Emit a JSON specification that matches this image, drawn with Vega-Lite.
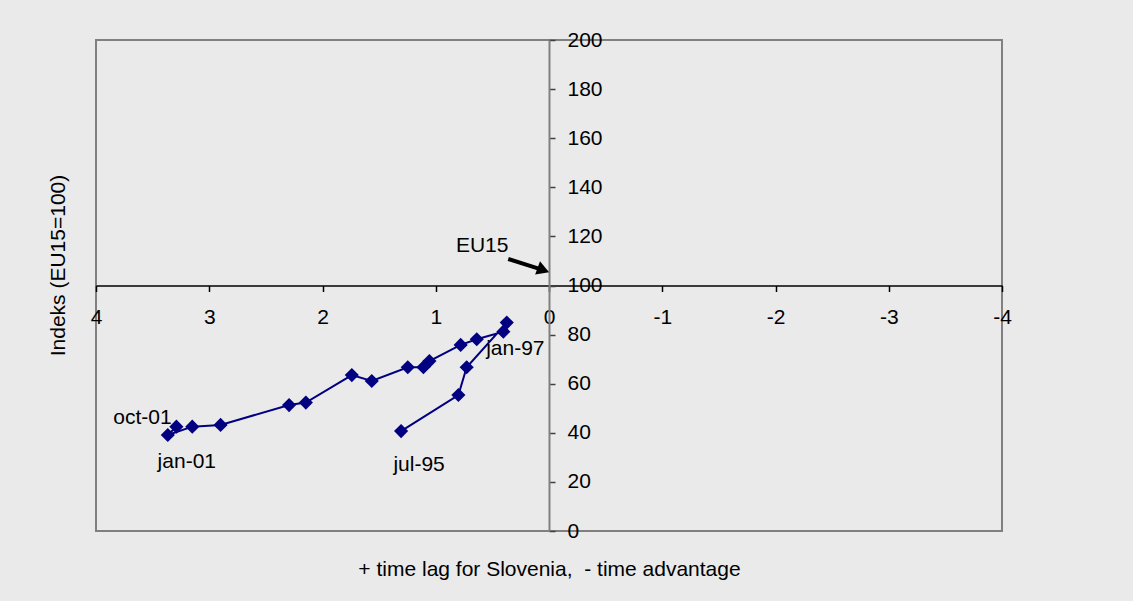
{
  "$schema": "https://vega.github.io/schema/vega-lite/v6.json",
  "width": 906,
  "height": 491,
  "autosize": {"type": "none"},
  "padding": {"left": 96, "top": 40, "right": 131, "bottom": 70},
  "background": "#eaeaea",
  "config": {
    "view": {"stroke": "#808080", "strokeWidth": 2, "fill": "#eaeaea"},
    "font": "Liberation Sans",
    "text": {"font": "Liberation Sans", "fontSize": 21, "color": "black"}
  },
  "datasets": {
    "series": [
      {"seq": 1, "lag": 1.306, "index": 40.7, "label": "jul-95"},
      {"seq": 2, "lag": 0.80, "index": 55.4, "label": ""},
      {"seq": 3, "lag": 0.727, "index": 66.7, "label": ""},
      {"seq": 4, "lag": 0.373, "index": 84.9, "label": ""},
      {"seq": 5, "lag": 0.403, "index": 81.2, "label": "jan-97"},
      {"seq": 6, "lag": 0.638, "index": 78.1, "label": ""},
      {"seq": 7, "lag": 0.78, "index": 75.8, "label": ""},
      {"seq": 8, "lag": 1.056, "index": 69.2, "label": ""},
      {"seq": 9, "lag": 1.109, "index": 66.7, "label": ""},
      {"seq": 10, "lag": 1.247, "index": 66.7, "label": ""},
      {"seq": 11, "lag": 1.565, "index": 61.1, "label": ""},
      {"seq": 12, "lag": 1.741, "index": 63.5, "label": ""},
      {"seq": 13, "lag": 2.147, "index": 52.3, "label": ""},
      {"seq": 14, "lag": 2.295, "index": 51.3, "label": ""},
      {"seq": 15, "lag": 2.90, "index": 43.2, "label": ""},
      {"seq": 16, "lag": 3.15, "index": 42.5, "label": ""},
      {"seq": 17, "lag": 3.366, "index": 39.1, "label": "jan-01"},
      {"seq": 18, "lag": 3.29, "index": 42.5, "label": "oct-01"}
    ],
    "arrow": [
      {"x1": 0.36, "y1": 110.8, "x2": 0.05, "y2": 106.3, "text": "EU15", "tx": 0.59, "ty": 116}
    ]
  },
  "resolve": {"axis": {"x": "independent", "y": "independent"}},
  "layer": [
    {
      "data": {"name": "series"},
      "mark": {"type": "line", "color": "#000080", "strokeWidth": 2},
      "encoding": {
        "x": {
          "field": "lag", "type": "quantitative",
          "scale": {"domain": [-4, 4], "reverse": true, "nice": false, "zero": false},
          "axis": {
            "orient": "bottom", "offset": -245.5, "title": null, "grid": false,
            "values": [-4, -3, -2, -1, 0, 1, 2, 3, 4],
            "labelExpr": "'' + datum.value",
            "domainColor": "black", "domainWidth": 1.5,
            "tickColor": "black", "tickSize": 6, "tickWidth": 1.5,
            "labelFont": "Liberation Sans", "labelFontSize": 21, "labelColor": "black",
            "labelPadding": 15, "labelFlush": false, "labelOverlap": false
          }
        },
        "y": {
          "field": "index", "type": "quantitative",
          "scale": {"domain": [0, 200], "nice": false},
          "axis": {
            "orient": "right", "offset": -453, "title": null, "grid": false,
            "values": [0, 20, 40, 60, 80, 100, 120, 140, 160, 180, 200],
            "domainColor": "#808080", "domainWidth": 2,
            "tickColor": "#404040", "tickSize": 6, "tickWidth": 1.5,
            "labelFont": "Liberation Sans", "labelFontSize": 21, "labelColor": "black",
            "labelPadding": 12, "labelFlush": false, "labelOverlap": false
          }
        },
        "order": {"field": "seq", "type": "quantitative"}
      }
    },
    {
      "data": {"name": "series"},
      "mark": {"type": "point", "shape": "diamond", "filled": true, "color": "#000080", "size": 200, "opacity": 1},
      "encoding": {
        "x": {
          "field": "lag", "type": "quantitative",
          "axis": {
            "orient": "bottom", "title": "+ time lag for Slovenia,\u00a0 - time advantage",
            "labels": false, "ticks": false, "domain": false, "grid": false,
            "titleFont": "Liberation Sans", "titleFontSize": 21, "titleFontWeight": "normal",
            "titleColor": "black", "titlePadding": 27
          }
        },
        "y": {
          "field": "index", "type": "quantitative",
          "axis": {
            "orient": "left", "title": "Indeks (EU15=100)",
            "labels": false, "ticks": false, "domain": false, "grid": false,
            "titleFont": "Liberation Sans", "titleFontSize": 21, "titleFontWeight": "normal",
            "titleColor": "black", "titlePadding": 28, "titleY": 225
          }
        }
      }
    },
    {
      "data": {"name": "series"},
      "transform": [{"filter": "datum.label == 'jul-95'"}],
      "mark": {"type": "text", "dx": 18, "dy": 34, "align": "center", "baseline": "middle"},
      "encoding": {
        "x": {"field": "lag", "type": "quantitative", "axis": null},
        "y": {"field": "index", "type": "quantitative", "axis": null},
        "text": {"field": "label"}
      }
    },
    {
      "data": {"name": "series"},
      "transform": [{"filter": "datum.label == 'jan-97'"}],
      "mark": {"type": "text", "dx": 12, "dy": 17, "align": "center", "baseline": "middle"},
      "encoding": {
        "x": {"field": "lag", "type": "quantitative", "axis": null},
        "y": {"field": "index", "type": "quantitative", "axis": null},
        "text": {"field": "label"}
      }
    },
    {
      "data": {"name": "series"},
      "transform": [{"filter": "datum.label == 'jan-01'"}],
      "mark": {"type": "text", "dx": 19, "dy": 27, "align": "center", "baseline": "middle"},
      "encoding": {
        "x": {"field": "lag", "type": "quantitative", "axis": null},
        "y": {"field": "index", "type": "quantitative", "axis": null},
        "text": {"field": "label"}
      }
    },
    {
      "data": {"name": "series"},
      "transform": [{"filter": "datum.label == 'oct-01'"}],
      "mark": {"type": "text", "dx": -34, "dy": -9, "align": "center", "baseline": "middle"},
      "encoding": {
        "x": {"field": "lag", "type": "quantitative", "axis": null},
        "y": {"field": "index", "type": "quantitative", "axis": null},
        "text": {"field": "label"}
      }
    },
    {
      "data": {"name": "arrow"},
      "mark": {"type": "rule", "color": "black", "strokeWidth": 4},
      "encoding": {
        "x": {"field": "x1", "type": "quantitative", "axis": null},
        "y": {"field": "y1", "type": "quantitative", "axis": null},
        "x2": {"field": "x2"},
        "y2": {"field": "y2"}
      }
    },
    {
      "data": {"name": "arrow"},
      "mark": {"type": "point", "shape": "triangle-right", "filled": true, "color": "black", "size": 200, "angle": 20, "opacity": 1},
      "encoding": {
        "x": {"field": "x2", "type": "quantitative", "axis": null},
        "y": {"field": "y2", "type": "quantitative", "axis": null}
      }
    },
    {
      "data": {"name": "arrow"},
      "mark": {"type": "text", "align": "center", "baseline": "middle"},
      "encoding": {
        "x": {"field": "tx", "type": "quantitative", "axis": null},
        "y": {"field": "ty", "type": "quantitative", "axis": null},
        "text": {"field": "text"}
      }
    }
  ]
}
